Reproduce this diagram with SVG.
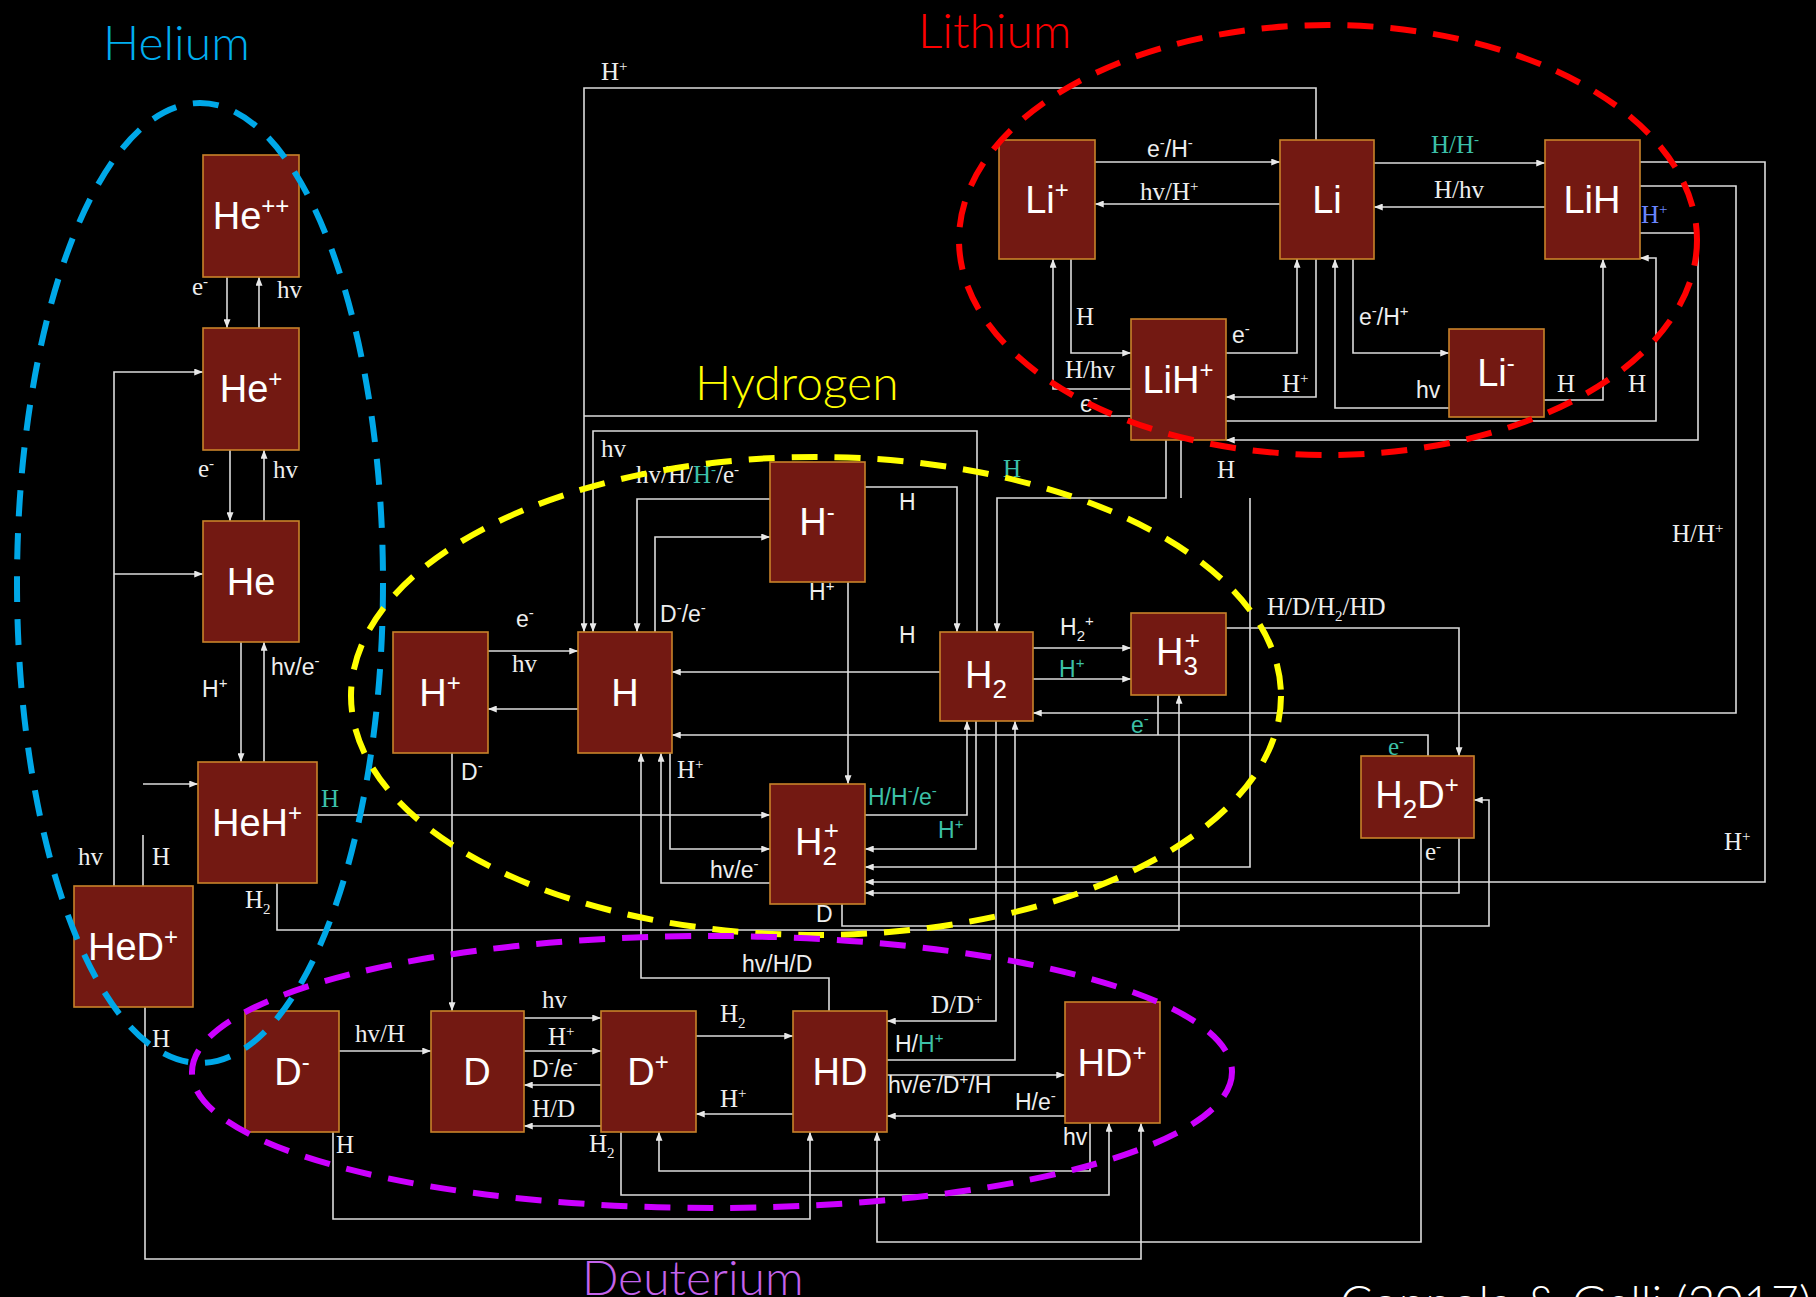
<svg xmlns="http://www.w3.org/2000/svg" width="1816" height="1297" viewBox="0 0 1816 1297">
<style>
.bg{fill:#000}
.box{fill:#731912;stroke:#c8822a;stroke-width:1.6}
.nl{font-family:"Liberation Sans",Arial,sans-serif;font-size:38px;fill:#fff;text-anchor:middle}
.c{fill:none;stroke:#dcdcdc;stroke-width:1.6}
.ar{marker-end:url(#ah)}
.s{font-family:"Liberation Serif","Times New Roman",serif;font-size:25px;fill:#eeeeee}
.a{font-family:"Liberation Sans",Arial,sans-serif;font-size:23px;fill:#eeeeee}
.tl{fill:#3cc0a8}
.bl{fill:#6a86ff}
.sp{font-size:15px}
.sb{font-size:15px}
.t{font-family:Lato,"Open Sans",sans-serif;font-weight:300;font-size:48px}
.el{fill:none;stroke-width:6;stroke-dasharray:26 17}
</style>
<defs>
<marker id="ah" viewBox="0 0 10 8" refX="10" refY="4" markerWidth="9" markerHeight="7" markerUnits="userSpaceOnUse" orient="auto"><path d="M0,0L10,4L0,8z" fill="#e8e8e8"/></marker>
</defs>
<rect class="bg" x="0" y="0" width="1816" height="1297"/>

<g id="connectors">
<path class="c ar" d="M227 277V328"/>
<path class="c ar" d="M259 328V277"/>
<path class="c ar" d="M230 450V521"/>
<path class="c ar" d="M264 521V450"/>
<path class="c ar" d="M241 642V762"/>
<path class="c ar" d="M264 762V642"/>
<path class="c ar" d="M114 886V372H203"/>
<path class="c ar" d="M114 574H203"/>
<path class="c" d="M143 886V835"/>
<path class="c ar" d="M143 784H198"/>
<path class="c ar" d="M317 815H770"/>
<path class="c ar" d="M277 883V930H1179V695"/>
<path class="c ar" d="M145 1007V1259H1141V1123"/>
<path class="c ar" d="M488 651H578"/>
<path class="c ar" d="M578 709H488"/>
<path class="c ar" d="M452 753V1011"/>
<path class="c ar" d="M1316 140V88H584V632"/>
<path class="c" d="M1131 416H584"/>
<path class="c ar" d="M977 632V431H593V632"/>
<path class="c ar" d="M770 499H637V632"/>
<path class="c ar" d="M655 632V537H770"/>
<path class="c ar" d="M865 487H957V632"/>
<path class="c ar" d="M848 582V784"/>
<path class="c ar" d="M940 672H672"/>
<path class="c ar" d="M1033 648H1131"/>
<path class="c ar" d="M1033 679H1131"/>
<path class="c" d="M1158 695V735"/>
<path class="c ar" d="M1428 756V735H672"/>
<path class="c ar" d="M1166 440V498H997V632"/>
<path class="c" d="M1181 440V498"/>
<path class="c ar" d="M1250 498V867H865"/>
<path class="c ar" d="M1640 186H1736V713H1033"/>
<path class="c ar" d="M1640 162H1765V882H865"/>
<path class="c ar" d="M1459 838V893H865"/>
<path class="c ar" d="M842 904V926H1489V800H1474"/>
<path class="c ar" d="M1226 628H1459V756"/>
<path class="c ar" d="M976 721V849H865"/>
<path class="c ar" d="M865 815H967V721"/>
<path class="c ar" d="M670 753V849H770"/>
<path class="c ar" d="M770 883H661V753"/>
<path class="c ar" d="M829 1011V978H641V753"/>
<path class="c ar" d="M996 721V1021H887"/>
<path class="c ar" d="M887 1060H1015V721"/>
<path class="c ar" d="M1095 162H1280"/>
<path class="c ar" d="M1280 204H1095"/>
<path class="c ar" d="M1374 163H1545"/>
<path class="c ar" d="M1545 207H1374"/>
<path class="c ar" d="M1071 259V353H1131"/>
<path class="c ar" d="M1131 389H1053V259"/>
<path class="c ar" d="M1226 353H1297V259"/>
<path class="c ar" d="M1316 259V397H1226"/>
<path class="c ar" d="M1353 259V353H1449"/>
<path class="c ar" d="M1449 408H1335V259"/>
<path class="c ar" d="M1544 400H1603V259"/>
<path class="c ar" d="M1226 421H1656V258H1640"/>
<path class="c ar" d="M1640 233H1698V440H1226"/>
<path class="c ar" d="M339 1051H431"/>
<path class="c ar" d="M524 1018H601"/>
<path class="c ar" d="M524 1051H601"/>
<path class="c ar" d="M601 1085H524"/>
<path class="c ar" d="M601 1126H524"/>
<path class="c ar" d="M696 1036H793"/>
<path class="c ar" d="M793 1114H696"/>
<path class="c ar" d="M887 1075H1065"/>
<path class="c ar" d="M1065 1116H887"/>
<path class="c ar" d="M1090 1123V1171H659V1132"/>
<path class="c ar" d="M621 1132V1195H1109V1123"/>
<path class="c ar" d="M333 1132V1219H810V1132"/>
<path class="c ar" d="M1421 838V1242H877V1132"/>
</g>

<g id="edge-labels">
<text class="s" x="192" y="295">e<tspan class="sp" dy="-9">-</tspan></text>
<text class="s" x="277" y="298">hv</text>
<text class="s" x="198" y="477">e<tspan class="sp" dy="-9">-</tspan></text>
<text class="s" x="273" y="478">hv</text>
<text class="a" x="202" y="697">H<tspan class="sp" dy="-9">+</tspan></text>
<text class="a" x="271" y="675">hv/e<tspan class="sp" dy="-9">-</tspan></text>
<text class="s tl" x="321" y="807">H</text>
<text class="s" x="78" y="865">hv</text>
<text class="s" x="152" y="865">H</text>
<text class="s" x="245" y="908">H<tspan class="sb" dy="6">2</tspan></text>
<text class="s" x="152" y="1047">H</text>
<text class="a" x="516" y="627">e<tspan class="sp" dy="-9">-</tspan></text>
<text class="s" x="512" y="672">hv</text>
<text class="a" x="461" y="780">D<tspan class="sp" dy="-9">-</tspan></text>
<text class="s" x="601" y="80">H<tspan class="sp" dy="-9">+</tspan></text>
<text class="s" x="601" y="457">hv</text>
<text class="s" x="636" y="483">hv/H/<tspan class="tl">H</tspan><tspan class="sp tl" dy="-9">-</tspan><tspan dy="9">/e</tspan><tspan class="sp" dy="-9">-</tspan></text>
<text class="a" x="660" y="622">D<tspan class="sp" dy="-9">-</tspan><tspan dy="9">/e</tspan><tspan class="sp" dy="-9">-</tspan></text>
<text class="a" x="899" y="510">H</text>
<text class="a" x="809" y="600">H<tspan class="sp" dy="-9">+</tspan></text>
<text class="a" x="899" y="643">H</text>
<text class="a" x="1060" y="635">H<tspan class="sb" dy="6">2</tspan><tspan class="sp" dy="-15">+</tspan></text>
<text class="a tl" x="1059" y="677">H<tspan class="sp" dy="-9">+</tspan></text>
<text class="a tl" x="1131" y="733">e<tspan class="sp" dy="-9">-</tspan></text>
<text class="s tl" x="1003" y="477">H</text>
<text class="s" x="1217" y="478">H</text>
<text class="s" x="1672" y="542">H/H<tspan class="sp" dy="-9">+</tspan></text>
<text class="s" x="1724" y="850">H<tspan class="sp" dy="-9">+</tspan></text>
<text class="a" x="816" y="922">D</text>
<text class="s" x="1267" y="615">H/D/H<tspan class="sb" dy="6">2</tspan><tspan dy="-6">/HD</tspan></text>
<text class="s tl" x="1388" y="755">e<tspan class="sp" dy="-9">-</tspan></text>
<text class="a tl" x="938" y="838">H<tspan class="sp" dy="-9">+</tspan></text>
<text class="a tl" x="868" y="805">H/H<tspan class="sp" dy="-9">-</tspan><tspan dy="9">/e</tspan><tspan class="sp" dy="-9">-</tspan></text>
<text class="s" x="677" y="778">H<tspan class="sp" dy="-9">+</tspan></text>
<text class="a" x="710" y="878">hv/e<tspan class="sp" dy="-9">-</tspan></text>
<text class="a" x="742" y="972">hv/H/D</text>
<text class="s" x="931" y="1013">D/D<tspan class="sp" dy="-9">+</tspan></text>
<text class="a" x="895" y="1052">H/<tspan class="tl">H</tspan><tspan class="sp tl" dy="-9">+</tspan></text>
<text class="a" x="1147" y="157">e<tspan class="sp" dy="-9">-</tspan><tspan dy="9">/H</tspan><tspan class="sp" dy="-9">-</tspan></text>
<text class="s" x="1140" y="200">hv/H<tspan class="sp" dy="-9">+</tspan></text>
<text class="s tl" x="1431" y="153">H/H<tspan class="sp" dy="-9">-</tspan></text>
<text class="s" x="1434" y="198">H/hv</text>
<text class="s" x="1076" y="325">H</text>
<text class="s" x="1065" y="378">H/hv</text>
<text class="a" x="1080" y="412">e<tspan class="sp" dy="-9">-</tspan></text>
<text class="a" x="1232" y="343">e<tspan class="sp" dy="-9">-</tspan></text>
<text class="s" x="1282" y="392">H<tspan class="sp" dy="-9">+</tspan></text>
<text class="a" x="1359" y="325">e<tspan class="sp" dy="-9">-</tspan><tspan dy="9">/H</tspan><tspan class="sp" dy="-9">+</tspan></text>
<text class="a" x="1416" y="398">hv</text>
<text class="s" x="1557" y="392">H</text>
<text class="s" x="1628" y="392">H</text>
<text class="s bl" x="1641" y="223">H<tspan class="sp" dy="-9">+</tspan></text>
<text class="s" x="355" y="1042">hv/H</text>
<text class="s" x="542" y="1008">hv</text>
<text class="s" x="548" y="1045">H<tspan class="sp" dy="-9">+</tspan></text>
<text class="a" x="532" y="1077">D<tspan class="sp" dy="-9">-</tspan><tspan dy="9">/e</tspan><tspan class="sp" dy="-9">-</tspan></text>
<text class="s" x="532" y="1117">H/D</text>
<text class="s" x="720" y="1022">H<tspan class="sb" dy="6">2</tspan></text>
<text class="s" x="720" y="1107">H<tspan class="sp" dy="-9">+</tspan></text>
<text class="a" x="888" y="1093">hv/e<tspan class="sp" dy="-9">-</tspan><tspan dy="9">/D</tspan><tspan class="sp" dy="-9">+</tspan><tspan dy="9">/H</tspan></text>
<text class="a" x="1015" y="1110">H/e<tspan class="sp" dy="-9">-</tspan></text>
<text class="a" x="1063" y="1145">hv</text>
<text class="s" x="589" y="1152">H<tspan class="sb" dy="6">2</tspan></text>
<text class="s" x="336" y="1153">H</text>
<text class="s" x="1425" y="860">e<tspan class="sp" dy="-9">-</tspan></text>
</g>

<g id="n-Hepp"><rect class="box" x="203" y="155" width="96" height="122"/><text class="nl" x="251" y="229">He<tspan font-size="24" dy="-15">++</tspan></text></g>
<g id="n-Hep"><rect class="box" x="203" y="328" width="96" height="122"/><text class="nl" x="251" y="402">He<tspan font-size="24" dy="-15">+</tspan></text></g>
<g id="n-He"><rect class="box" x="203" y="521" width="96" height="121"/><text class="nl" x="251" y="595">He</text></g>
<g id="n-HeHp"><rect class="box" x="198" y="762" width="119" height="121"/><text class="nl" x="257" y="836">HeH<tspan font-size="24" dy="-15">+</tspan></text></g>
<g id="n-HeDp"><rect class="box" x="74" y="886" width="119" height="121"/><text class="nl" x="133" y="960">HeD<tspan font-size="24" dy="-15">+</tspan></text></g>
<g id="n-Hp"><rect class="box" x="393" y="632" width="95" height="121"/><text class="nl" x="440" y="706">H<tspan font-size="24" dy="-15">+</tspan></text></g>
<g id="n-H"><rect class="box" x="578" y="632" width="94" height="121"/><text class="nl" x="625" y="706">H</text></g>
<g id="n-Hm"><rect class="box" x="770" y="462" width="95" height="120"/><text class="nl" x="817" y="535">H<tspan font-size="24" dy="-15">-</tspan></text></g>
<g id="n-H2"><rect class="box" x="940" y="632" width="93" height="89"/><text class="nl" x="986" y="688">H<tspan font-size="26" dy="10">2</tspan></text></g>
<g id="n-H3p"><rect class="box" x="1131" y="613" width="95" height="82"/><text class="nl" x="1178" y="665">H<tspan font-size="26" dy="10">3</tspan><tspan font-size="26" dx="-13" dy="-26">+</tspan></text></g>
<g id="n-H2p"><rect class="box" x="770" y="784" width="95" height="120"/><text class="nl" x="817" y="855">H<tspan font-size="26" dy="10">2</tspan><tspan font-size="26" dx="-13" dy="-26">+</tspan></text></g>
<g id="n-H2Dp"><rect class="box" x="1361" y="756" width="113" height="82"/><text class="nl" x="1417" y="808">H<tspan font-size="26" dy="10">2</tspan><tspan dy="-10">D</tspan><tspan font-size="24" dy="-15">+</tspan></text></g>
<g id="n-Lip"><rect class="box" x="999" y="140" width="96" height="119"/><text class="nl" x="1047" y="213">Li<tspan font-size="24" dy="-15">+</tspan></text></g>
<g id="n-Li"><rect class="box" x="1280" y="140" width="94" height="119"/><text class="nl" x="1327" y="213">Li</text></g>
<g id="n-LiH"><rect class="box" x="1545" y="140" width="95" height="119"/><text class="nl" x="1592" y="213">LiH</text></g>
<g id="n-LiHp"><rect class="box" x="1131" y="319" width="95" height="121"/><text class="nl" x="1178" y="393">LiH<tspan font-size="24" dy="-15">+</tspan></text></g>
<g id="n-Lim"><rect class="box" x="1449" y="329" width="95" height="88"/><text class="nl" x="1496" y="386">Li<tspan font-size="24" dy="-15">-</tspan></text></g>
<g id="n-Dm"><rect class="box" x="245" y="1011" width="94" height="121"/><text class="nl" x="292" y="1085">D<tspan font-size="24" dy="-15">-</tspan></text></g>
<g id="n-D"><rect class="box" x="431" y="1011" width="93" height="121"/><text class="nl" x="477" y="1085">D</text></g>
<g id="n-Dp"><rect class="box" x="601" y="1011" width="95" height="121"/><text class="nl" x="648" y="1085">D<tspan font-size="24" dy="-15">+</tspan></text></g>
<g id="n-HD"><rect class="box" x="793" y="1011" width="94" height="121"/><text class="nl" x="840" y="1085">HD</text></g>
<g id="n-HDp"><rect class="box" x="1065" y="1002" width="95" height="121"/><text class="nl" x="1112" y="1076">HD<tspan font-size="24" dy="-15">+</tspan></text></g>

<g id="groups">
<ellipse class="el" cx="200" cy="583" rx="183" ry="480" stroke="#00a8e8"/>
<ellipse class="el" cx="1328" cy="240" rx="369" ry="215" stroke="#ff0000"/>
<ellipse class="el" cx="816" cy="696" rx="465" ry="239" stroke="#ffff00"/>
<ellipse class="el" cx="712" cy="1072" rx="520" ry="136" stroke="#cc00ff"/>
</g>

<g id="titles">
<text class="t" x="103" y="60" fill="#00aeef">Helium</text>
<text class="t" x="918" y="48" fill="#ff0000">Lithium</text>
<text class="t" x="695" y="400" fill="#ffff00">Hydrogen</text>
<text class="t" x="582" y="1295" fill="#c463ec">Deuterium</text>
<text class="t" x="1340" y="1320" fill="#ffffff">Coppola &amp; Galli (2017)</text>
</g>
</svg>
